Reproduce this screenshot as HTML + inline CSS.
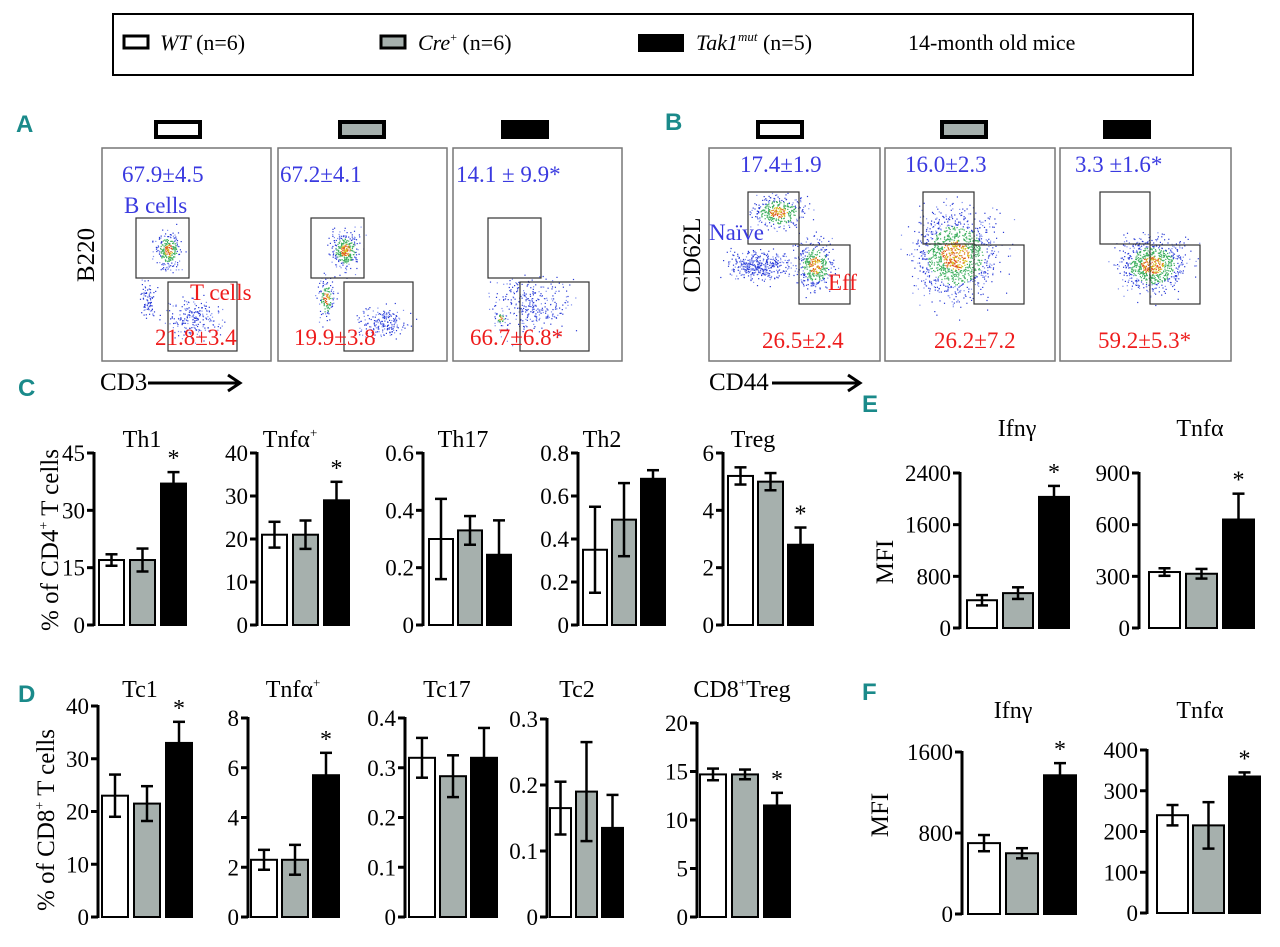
<!DOCTYPE html>
<html><head><meta charset="utf-8">
<style>
html,body{margin:0;padding:0;background:#fff;}
svg{display:block;}
text{font-family:"Liberation Serif",serif;}
.lt{font-family:"Liberation Sans",sans-serif;font-weight:bold;fill:#1a8a8a;font-size:24px;}
</style></head>
<body>
<svg id="fig" width="1280" height="947" viewBox="0 0 1280 947" xmlns="http://www.w3.org/2000/svg">
  <g>
    <rect x="113" y="14" width="1080" height="61" fill="#fff" stroke="#000" stroke-width="2"/>
    <g>
      <rect x="124" y="36" width="24" height="12" fill="#fff" stroke="#000" stroke-width="3"/>
      <text x="160" y="50" font-size="22"><tspan font-style="italic">WT</tspan> (n=6)</text>
    </g>
    <g>
      <rect x="381" y="36" width="24" height="12" fill="#a6b0ad" stroke="#000" stroke-width="3"/>
      <text x="418" y="50" font-size="22"><tspan font-style="italic">Cre</tspan><tspan font-size="12" dy="-9">+</tspan><tspan dy="9"> (n=6)</tspan></text>
    </g>
    <g>
      <rect x="638" y="34" width="46" height="18" fill="#000"/>
      <text x="696" y="50" font-size="22"><tspan font-style="italic">Tak1</tspan><tspan font-style="italic" font-size="13" dy="-9">mut</tspan><tspan dy="9">  (n=5)</tspan></text>
    </g>
    <text x="908" y="50" font-size="22">14-month old mice</text>
  </g>

  <text class="lt" x="16" y="132">A</text>
  <text class="lt" x="665" y="130">B</text>
  <text class="lt" x="18" y="396">C</text>
  <text class="lt" x="18" y="702">D</text>
  <text class="lt" x="862" y="412">E</text>
  <text class="lt" x="862" y="700">F</text>

  <text transform="translate(58,540) rotate(-90)" text-anchor="middle" font-size="25">% of CD4<tspan font-size="14" dy="-10">+</tspan><tspan dy="10"> T cells</tspan></text>
  <text transform="translate(54,820) rotate(-90)" text-anchor="middle" font-size="25">% of CD8<tspan font-size="14" dy="-10">+</tspan><tspan dy="10"> T cells</tspan></text>
  <text transform="translate(893,562) rotate(-90)" text-anchor="middle" font-size="25">MFI</text>
  <text transform="translate(888,815) rotate(-90)" text-anchor="middle" font-size="25">MFI</text>

  <g id="flow"></g>
  <g id="charts"></g>
</svg>
<script>
const groups = ["WT", "Cre+", "Tak1mut"];
const th1Vals = [17, 17, 37];          const th1Errs = [1.5, 3, 3];
const tnfC4Vals = [21, 21, 29];        const tnfC4Errs = [3, 3.3, 4.3];
const th17Vals = [0.30, 0.33, 0.245];  const th17Errs = [0.14, 0.05, 0.12];
const th2Vals = [0.35, 0.49, 0.68];    const th2Errs = [0.2, 0.17, 0.04];
const tregVals = [5.2, 5.0, 2.8];      const tregErrs = [0.3, 0.3, 0.6];
const tc1Vals = [23, 21.5, 33];        const tc1Errs = [4, 3.3, 4];
const tnfC8Vals = [2.3, 2.3, 5.7];     const tnfC8Errs = [0.4, 0.6, 0.9];
const tc17Vals = [0.32, 0.283, 0.32];  const tc17Errs = [0.04, 0.042, 0.06];
const tc2Vals = [0.165, 0.19, 0.135];  const tc2Errs = [0.04, 0.075, 0.05];
const cd8tregVals = [14.7, 14.7, 11.5];const cd8tregErrs = [0.6, 0.5, 1.3];
const eIfnVals = [430, 540, 2030];     const eIfnErrs = [80, 90, 170];
const eTnfVals = [325, 315, 630];      const eTnfErrs = [22, 28, 150];
const fIfnVals = [700, 600, 1370];     const fIfnErrs = [80, 50, 120];
const fTnfVals = [240, 215, 335];      const fTnfErrs = [25, 57, 10];
const th1Ticks = [0, 15, 30, 45];
const tnfC4Ticks = [0, 10, 20, 30, 40];
const th17Ticks = [0, 0.2, 0.4, 0.6];
const th2Ticks = [0, 0.2, 0.4, 0.6, 0.8];
const tregTicks = [0, 2, 4, 6];
const tc1Ticks = [0, 10, 20, 30, 40];
const tnfC8Ticks = [0, 2, 4, 6, 8];
const tc17Ticks = [0, 0.1, 0.2, 0.3, 0.4];
const tc2Ticks = [0, 0.1, 0.2, 0.3];
const cd8tregTicks = [0, 5, 10, 15, 20];
const eIfnTicks = [0, 800, 1600, 2400];
const eTnfTicks = [0, 300, 600, 900];
const fIfnTicks = [0, 800, 1600];
const fTnfTicks = [0, 100, 200, 300, 400];
const sigFlags = [false, false, true];

const NS = "http://www.w3.org/2000/svg";
const fills = ["#ffffff", "#a6b0ad", "#000000"];
function mk(tag, attrs, parent) {
  const e = document.createElementNS(NS, tag);
  for (const k in attrs) e.setAttribute(k, attrs[k]);
  parent.appendChild(e);
  return e;
}
function fmt(t) { return String(t); }

function drawChart(id, title, titleHtml, vals, errs, ticks, star, L) {
  const root = document.getElementById('charts');
  const g = mk('g', {}, root);
  
  
  const max = ticks[ticks.length - 1];
  const y = v => L.y0 - (v / max) * (L.y0 - L.yTop);
  const bx = i => L.ax + L.off + i * (L.bw + L.gap);
  const t = mk('text', {x: L.tx, y: L.ty, 'text-anchor': 'middle', 'font-size': 24}, g);
  t.innerHTML = titleHtml;
  
  
  vals.forEach((v, i) => {
    const r = mk('rect', {x: bx(i), y: y(v), width: L.bw, height: L.y0 - y(v), fill: fills[i], stroke: '#000', 'stroke-width': 2}, g);
    
    
    const cx = bx(i) + L.bw / 2;
    const eg = mk('g', {stroke: '#000', 'stroke-width': 2.5}, g);
    
    
    mk('line', {x1: cx, x2: cx, y1: y(v + errs[i]), y2: y(v - errs[i])}, eg);
    mk('line', {x1: cx - 6, x2: cx + 6, y1: y(v + errs[i]), y2: y(v + errs[i])}, eg);
    mk('line', {x1: cx - 6, x2: cx + 6, y1: y(v - errs[i]), y2: y(v - errs[i])}, eg);
    if (star && sigFlags[i]) {
      const s = mk('text', {x: cx, y: y(v + errs[i]) - 6, 'text-anchor': 'middle', 'font-size': 24}, g);
      s.textContent = '*';
      
      
    }
  });
  const ax = mk('g', {stroke: '#000', 'stroke-width': 3}, g);
  
  
  mk('line', {x1: L.ax, x2: L.ax, y1: L.yTop - 1, y2: L.y0 + 1}, ax);
  ticks.forEach(tv => {
    mk('line', {x1: L.ax - 7, x2: L.ax, y1: y(tv), y2: y(tv)}, ax);
    const tl = mk('text', {x: L.ax - 9, y: y(tv) + 8, 'text-anchor': 'end', 'font-size': 23}, g);
    tl.textContent = fmt(tv);
    
    
  });
}

const sup = s => '<tspan font-size="13" dy="-10">' + s + '</tspan>';
drawChart('th1', 'Th1', 'Th1', th1Vals, th1Errs, th1Ticks, true, {ax: 94, yTop: 453, y0: 625, off: 5, bw: 25, gap: 6, tx: 142, ty: 447});
drawChart('tnfa-cd4', 'Tnfa+', 'Tnfα' + sup('+'), tnfC4Vals, tnfC4Errs, tnfC4Ticks, true, {ax: 257, yTop: 453, y0: 625, off: 5, bw: 25, gap: 6, tx: 290, ty: 447});
drawChart('th17', 'Th17', 'Th17', th17Vals, th17Errs, th17Ticks, false, {ax: 423, yTop: 453, y0: 625, off: 6, bw: 24, gap: 5, tx: 463, ty: 447});
drawChart('th2', 'Th2', 'Th2', th2Vals, th2Errs, th2Ticks, false, {ax: 578, yTop: 453, y0: 625, off: 5, bw: 24, gap: 5, tx: 602, ty: 447});
drawChart('treg', 'Treg', 'Treg', tregVals, tregErrs, tregTicks, true, {ax: 723, yTop: 453, y0: 625, off: 5, bw: 25, gap: 5, tx: 753, ty: 447});
drawChart('tc1', 'Tc1', 'Tc1', tc1Vals, tc1Errs, tc1Ticks, true, {ax: 98, yTop: 706, y0: 917, off: 4, bw: 26, gap: 6, tx: 140, ty: 697});
drawChart('tnfa-cd8', 'Tnfa+', 'Tnfα' + sup('+'), tnfC8Vals, tnfC8Errs, tnfC8Ticks, true, {ax: 248, yTop: 718, y0: 917, off: 3, bw: 26, gap: 5, tx: 293, ty: 697});
drawChart('tc17', 'Tc17', 'Tc17', tc17Vals, tc17Errs, tc17Ticks, false, {ax: 405, yTop: 718, y0: 917, off: 4, bw: 26, gap: 5, tx: 447, ty: 697});
drawChart('tc2', 'Tc2', 'Tc2', tc2Vals, tc2Errs, tc2Ticks, false, {ax: 547, yTop: 719, y0: 917, off: 3, bw: 21, gap: 5, tx: 577, ty: 697});
drawChart('cd8treg', 'CD8+Treg', 'CD8' + sup('+') + '<tspan dy="10">Treg</tspan>', cd8tregVals, cd8tregErrs, cd8tregTicks, true, {ax: 697, yTop: 723, y0: 917, off: 3, bw: 26, gap: 6, tx: 742, ty: 697});
drawChart('e-ifng', 'Ifng', 'Ifnγ', eIfnVals, eIfnErrs, eIfnTicks, true, {ax: 960, yTop: 473, y0: 628, off: 7, bw: 30, gap: 6, tx: 1017, ty: 436});
drawChart('e-tnfa', 'Tnfa', 'Tnfα', eTnfVals, eTnfErrs, eTnfTicks, true, {ax: 1139, yTop: 473, y0: 628, off: 10, bw: 31, gap: 6, tx: 1200, ty: 436});
drawChart('f-ifng', 'Ifng', 'Ifnγ', fIfnVals, fIfnErrs, fIfnTicks, true, {ax: 962, yTop: 752, y0: 914, off: 6, bw: 32, gap: 6, tx: 1013, ty: 718});
drawChart('f-tnfa', 'Tnfa', 'Tnfα', fTnfVals, fTnfErrs, fTnfTicks, true, {ax: 1147, yTop: 750, y0: 913, off: 10, bw: 31, gap: 5, tx: 1200, ty: 718});

const flow = document.getElementById('flow');
let seed = 12345;
function rnd() { seed = (seed * 1103515245 + 12345) % 2147483648; return seed / 2147483648; }
function gauss() { return (rnd() + rnd() + rnd() + rnd() - 2) / 1.15; }
function cloud(g, cx, cy, sx, sy, n, hot) {
  for (let i = 0; i < n; i++) {
    const dx = gauss() * sx, dy = gauss() * sy;
    const d = Math.sqrt((dx / sx) ** 2 + (dy / sy) ** 2);
    let c = '#2a3bd6';
    if (hot && d < 0.35) c = rnd() < 0.5 ? '#d8c020' : '#e05020';
    else if (hot && d < 0.7) c = '#40b060';
    else if (rnd() < 0.35) c = '#8090f0';
    mk('rect', {x: (cx + dx).toFixed(1), y: (cy + dy).toFixed(1), width: 1.2, height: 1.2, fill: c}, g);
  }
}
function frame(name, x, y, w, h) {
  const g = mk('g', {}, flow);
  
  
  mk('rect', {x: x, y: y, width: w, height: h, fill: '#fff', stroke: '#777', 'stroke-width': 1.5}, g);
  return g;
}
function gate(g, x, y, w, h) { mk('rect', {x: x, y: y, width: w, height: h, fill: 'none', stroke: '#333', 'stroke-width': 1.2}, g); }
function txt(g, x, y, s, col, name) {
  const t = mk('text', {x: x, y: y, 'font-size': 23, fill: col}, g);
  t.textContent = s;
  
  
}
function marker(x, fill, name) {
  const r = mk('rect', {x: x, y: 122, width: 44, height: 15, fill: fill, stroke: '#000', 'stroke-width': 4}, flow);
  
  
}
const blue = '#3a3ae0', red = '#ee1c1c';
marker(156, '#fff', 'group-marker-a-wt'); marker(340, '#a6b0ad', 'group-marker-a-cre'); marker(503, '#000', 'group-marker-a-tak1mut');
let g = frame('flow-plot-a-wt', 102, 148, 169, 213);
cloud(g, 168, 250, 12, 18, 260, true); cloud(g, 192, 318, 26, 18, 220, false); cloud(g, 148, 300, 8, 20, 80, false);
gate(g, 136, 218, 53, 60); gate(g, 168, 282, 69, 69);
txt(g, 122, 182, '67.9±4.5', blue, 'b-cell-percent-wt'); txt(g, 124, 213, 'B cells', blue, 'b-cells-label');
txt(g, 190, 300, 'T cells', red, 't-cells-label'); txt(g, 155, 345, '21.8±3.4', red, 't-cell-percent-wt');
g = frame('flow-plot-a-cre', 278, 148, 169, 213);
cloud(g, 345, 250, 14, 18, 320, true); cloud(g, 326, 298, 8, 20, 140, true); cloud(g, 383, 322, 24, 15, 200, false);
gate(g, 311, 218, 53, 60); gate(g, 344, 282, 69, 69);
txt(g, 280, 182, '67.2±4.1', blue, 'b-cell-percent-cre'); txt(g, 294, 345, '19.9±3.8', red, 't-cell-percent-cre');
g = frame('flow-plot-a-tak1mut', 453, 148, 169, 213);
cloud(g, 530, 305, 36, 28, 320, false); cloud(g, 500, 318, 6, 6, 30, true);
gate(g, 488, 218, 53, 60); gate(g, 520, 282, 69, 69);
txt(g, 456, 182, '14.1 ±  9.9*', blue, 'b-cell-percent-tak1mut'); txt(g, 470, 345, '66.7±6.8*', red, 't-cell-percent-tak1mut');
marker(758, '#fff', 'group-marker-b-wt'); marker(942, '#a6b0ad', 'group-marker-b-cre'); marker(1105, '#000', 'group-marker-b-tak1mut');
g = frame('flow-plot-b-wt', 709, 148, 171, 213);
cloud(g, 778, 212, 26, 16, 350, true); cloud(g, 760, 265, 32, 14, 400, false); cloud(g, 815, 265, 18, 24, 400, true);
gate(g, 748, 192, 51, 52); gate(g, 799, 245, 51, 59);
txt(g, 740, 172, '17.4±1.9', blue, 'naive-percent-wt'); txt(g, 709, 240, 'Naïve', blue, 'naive-label');
txt(g, 828, 290, 'Eff', red, 'eff-label'); txt(g, 762, 348, '26.5±2.4', red, 'eff-percent-wt');
g = frame('flow-plot-b-cre', 885, 148, 170, 213);
cloud(g, 955, 255, 40, 42, 1200, true);
gate(g, 923, 192, 51, 52); gate(g, 974, 245, 50, 59);
txt(g, 905, 172, '16.0±2.3', blue, 'naive-percent-cre'); txt(g, 934, 348, '26.2±7.2', red, 'eff-percent-cre');
g = frame('flow-plot-b-tak1mut', 1060, 148, 171, 213);
cloud(g, 1152, 265, 32, 26, 800, true);
gate(g, 1100, 192, 50, 52); gate(g, 1150, 245, 50, 59);
txt(g, 1075, 172, '3.3 ±1.6*', blue, 'naive-percent-tak1mut'); txt(g, 1098, 348, '59.2±5.3*', red, 'eff-percent-tak1mut');
function axLabel(x, y, s, rot, name) {
  const t = mk('text', {x: 0, y: 0, 'font-size': 25, 'text-anchor': rot ? 'middle' : 'start', transform: 'translate(' + x + ',' + y + ')' + (rot ? ' rotate(-90)' : '')}, flow);
  t.textContent = s;
  
  
}
axLabel(94, 255, 'B220', true, 'y-axis-title-b220');
axLabel(100, 390, 'CD3', false, 'x-axis-title-cd3');
axLabel(700, 255, 'CD62L', true, 'y-axis-title-cd62l');
axLabel(709, 390, 'CD44', false, 'x-axis-title-cd44');
function arrow(x1, x2, y, name) {
  const a = mk('g', {stroke: '#000', 'stroke-width': 3, fill: 'none'}, flow);
  
  
  mk('line', {x1: x1, x2: x2, y1: y, y2: y}, a);
  mk('polyline', {points: (x2 - 12) + ',' + (y - 8) + ' ' + x2 + ',' + y + ' ' + (x2 - 12) + ',' + (y + 8)}, a);
}
arrow(148, 240, 383, 'x-axis-arrow-cd3');
arrow(772, 860, 383, 'x-axis-arrow-cd44');
</script>
</body></html>
